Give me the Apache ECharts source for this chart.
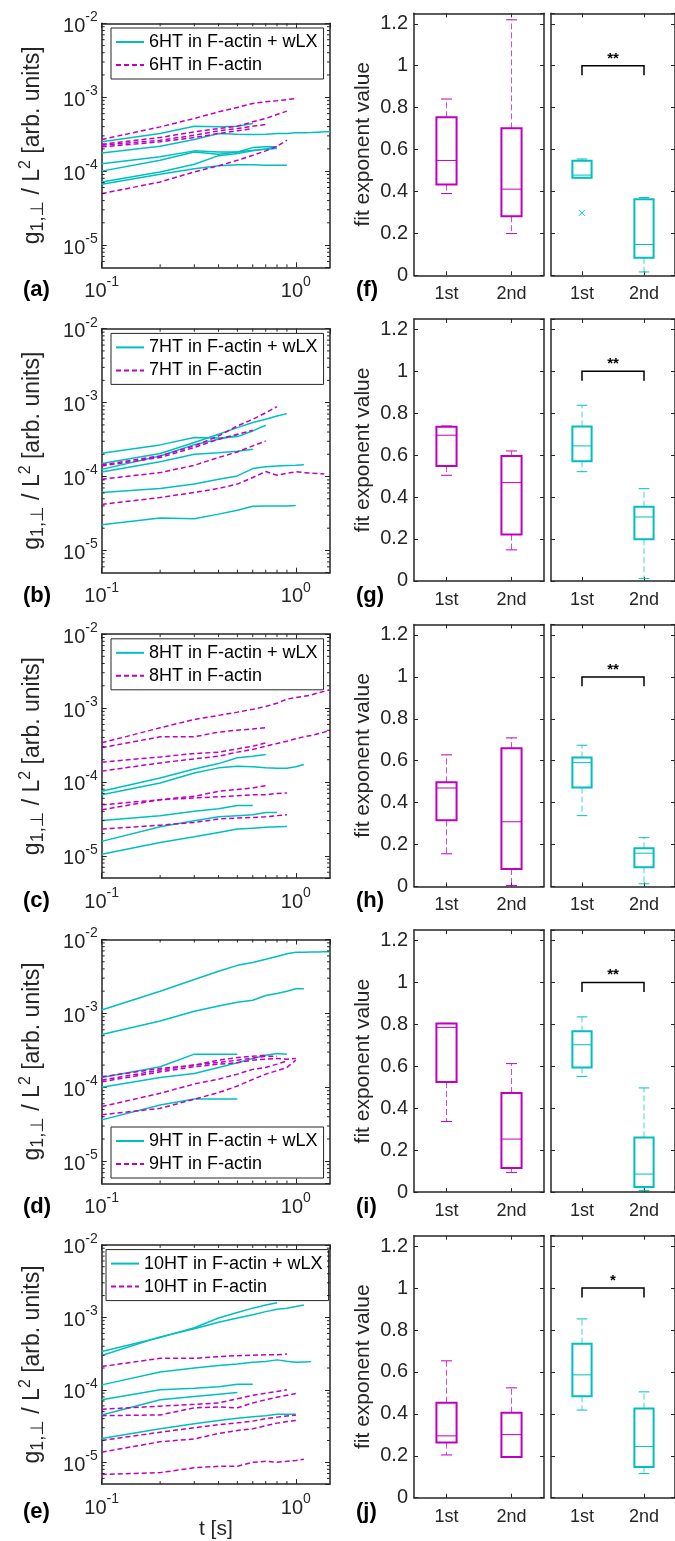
<!DOCTYPE html>
<html><head><meta charset="utf-8">
<script src="https://cdn.jsdelivr.net/npm/echarts@6/dist/echarts.min.js"></script>
<style>html,body{margin:0;padding:0;background:#fff}#c{width:675px;height:1541px}</style>
</head><body><div id="c"></div>
<script>
// ---------------- DATA ----------------
const T = [0.1,0.2,0.3,0.4,0.5,0.6,0.7,0.8,0.9,1.0,1.1,1.2,1.3,1.4,1.5];
const rowNames = ['6HT','7HT','8HT','9HT','10HT'];

const wLX_6HT = [
 [2.49e-4,3.23e-4,4.06e-4,3.97e-4,4.06e-4,4.41e-4],
 [1.76e-4,2.17e-4,2.68e-4,3.23e-4,3.16e-4,3.13e-4,3.16e-4,3.23e-4,3.23e-4,3.30e-4,3.30e-4,3.33e-4,3.37e-4,3.40e-4,3.40e-4],
 [1.26e-4,1.56e-4,1.88e-4,1.82e-4,1.82e-4,2.08e-4,2.13e-4,2.13e-4],
 [1.00e-4,1.40e-4,1.82e-4,1.69e-4,1.82e-4,1.92e-4,1.98e-4,2.02e-4],
 [7.14e-5,9.76e-5,1.24e-4,1.62e-4,1.73e-4,1.88e-4,2.00e-4,2.13e-4],
 [6.64e-5,9.07e-5,1.08e-4,1.18e-4,1.22e-4,1.22e-4,1.20e-4,1.20e-4,1.20e-4]
];
const act_6HT = [
 [2.68e-4,3.97e-4,5.16e-4,6.34e-4,7.27e-4,8.23e-4,8.70e-4,8.95e-4,9.30e-4,9.62e-4],
 [2.31e-4,2.85e-4,3.40e-4,3.77e-4,4.06e-4,4.65e-4,5.16e-4,5.85e-4,6.48e-4],
 [2.24e-4,2.62e-4,3.06e-4,3.51e-4,3.77e-4,4.06e-4,4.27e-4],
 [2.13e-4,2.49e-4,2.85e-4,3.23e-4,3.51e-4,3.77e-4],
 [4.96e-5,7.14e-5,9.76e-5,1.18e-4,1.40e-4,1.64e-4,1.88e-4,2.17e-4,2.62e-4]
];
const wLX_7HT = [
 [2.07e-4,2.68e-4,3.37e-4,3.33e-4,3.47e-4,4.14e-4,4.94e-4],
 [1.50e-4,2.05e-4,2.88e-4,3.73e-4,4.59e-4,5.37e-4,5.95e-4,6.60e-4,7.10e-4],
 [1.25e-4,1.90e-4,2.70e-4,3.20e-4,3.60e-4],
 [1.15e-4,1.58e-4,2.00e-4,2.10e-4,2.20e-4,2.34e-4],
 [6.1e-5,6.9e-5,7.9e-5,9.2e-5,1.02e-4,1.28e-4,1.36e-4,1.39e-4,1.41e-4,1.42e-4,1.44e-4],
 [2.22e-5,2.75e-5,2.68e-5,3.10e-5,3.50e-5,3.95e-5,4.00e-5,4.00e-5,4.00e-5,4.05e-5]
];
const act_7HT = [
 [1.44e-4,1.90e-4,2.60e-4,3.54e-4,4.84e-4,5.95e-4,7.30e-4,8.83e-4],
 [1.39e-4,1.81e-4,2.47e-4,3.20e-4,3.73e-4,4.23e-4],
 [9.2e-5,1.13e-4,1.42e-4,1.81e-4,2.15e-4,2.60e-4,3.03e-4],
 [4.2e-5,5.2e-5,6.1e-5,6.9e-5,7.9e-5,9.7e-5,1.17e-4,1.04e-4,1.11e-4,1.16e-4,1.13e-4,1.11e-4,1.10e-4,1.08e-4]
];
const wLX_8HT = [
 [7.5e-5,1.13e-4,1.50e-4,1.77e-4,2.12e-4,2.23e-4,2.35e-4],
 [6.7e-5,9.7e-5,1.32e-4,1.55e-4,1.63e-4,1.60e-4,1.55e-4,1.53e-4,1.53e-4,1.60e-4,1.72e-4],
 [3.0e-5,3.5e-5,4.0e-5,4.35e-5,4.8e-5,4.8e-5],
 [1.57e-5,2.48e-5,2.99e-5,3.38e-5,3.5e-5,3.6e-5,3.87e-5,3.87e-5],
 [1.05e-5,1.52e-5,1.81e-5,2.07e-5,2.3e-5,2.37e-5,2.43e-5,2.48e-5,2.5e-5]
];
const act_8HT = [
 [3.38e-4,5.4e-4,7.0e-4,7.95e-4,8.8e-4,9.6e-4,1.05e-3,1.16e-3,1.32e-3,1.38e-3,1.44e-3,1.5e-3,1.6e-3,1.68e-3,1.77e-3],
 [2.9e-4,4.08e-4,4.08e-4,4.72e-4,5.02e-4,5.2e-4,5.4e-4],
 [1.85e-4,2.18e-4,2.42e-4,2.53e-4,2.8e-4,3.05e-4,3.38e-4],
 [1.4e-4,1.81e-4,2.05e-4,2.23e-4,2.53e-4,2.75e-4,3.05e-4,3.31e-4,3.56e-4,3.84e-4,4.08e-4,4.25e-4,4.49e-4,4.72e-4,5.02e-4],
 [4.9e-5,5.75e-5,6.4e-5,7.47e-5,7.9e-5,8.3e-5,8.9e-5],
 [4.2e-5,5.75e-5,6.07e-5,6.3e-5,6.5e-5,6.7e-5,6.7e-5,7.0e-5,7.1e-5],
 [2.3e-5,2.6e-5,2.83e-5,3.15e-5,3.25e-5,3.3e-5,3.38e-5,3.5e-5,3.6e-5]
];
const wLX_9HT = [
 [1.11e-3,2.0e-3,2.87e-3,3.71e-3,4.47e-3,4.9e-3,5.4e-3,5.9e-3,6.4e-3,6.7e-3,6.7e-3,6.75e-3,6.8e-3,6.85e-3,6.85e-3],
 [5.2e-4,7.9e-4,1.07e-3,1.26e-3,1.42e-3,1.51e-3,1.75e-3,1.86e-3,2.0e-3,2.15e-3,2.15e-3],
 [1.36e-4,1.9e-4,2.81e-4,2.81e-4,2.81e-4],
 [1.0e-4,1.36e-4,1.54e-4,1.86e-4,2.15e-4,2.45e-4,2.72e-4,2.87e-4,2.81e-4],
 [3.63e-5,5.78e-5,6.97e-5,6.97e-5,6.97e-5]
];
const act_9HT = [
 [1.39e-4,1.8e-4,2.0e-4,2.17e-4,2.33e-4,2.5e-4,2.64e-4,2.64e-4],
 [1.25e-4,1.71e-4,2.0e-4,2.33e-4,2.53e-4,2.64e-4,2.72e-4],
 [1.19e-4,1.62e-4,1.9e-4,2.06e-4,2.15e-4,2.33e-4,2.41e-4,2.45e-4,2.4e-4,2.45e-4],
 [5.5e-5,8.3e-5,1.11e-4,1.29e-4,1.51e-4,1.75e-4,1.86e-4,2.06e-4,2.28e-4],
 [4.25e-5,5.2e-5,6.9e-5,8.5e-5,1.04e-4,1.28e-4,1.51e-4,1.68e-4,1.86e-4,2.33e-4]
];
const wLX_10HT = [
 [3.38e-4,5.27e-4,7.19e-4,9.8e-4,1.17e-3,1.34e-3,1.48e-3,1.59e-3],
 [2.98e-4,5.38e-4,6.97e-4,8.57e-4,9.8e-4,1.09e-3,1.2e-3,1.29e-3,1.34e-3,1.41e-3,1.48e-3],
 [1.17e-4,1.76e-4,2.0e-4,2.17e-4,2.28e-4,2.4e-4,2.46e-4,2.59e-4,2.48e-4,2.4e-4,2.43e-4,2.45e-4],
 [7.3e-5,1.0e-4,1.05e-4,1.1e-4,1.19e-4,1.19e-4],
 [4.5e-5,7.3e-5,8.1e-5,8.7e-5,9.2e-5],
 [2.13e-5,2.9e-5,3.4e-5,3.77e-5,4.05e-5,4.25e-5,4.4e-5,4.6e-5,4.6e-5,4.6e-5]
];
const act_10HT = [
 [2.1e-4,2.72e-4,2.72e-4,2.87e-4,2.96e-4,3.0e-4,3.05e-4,3.05e-4,3.11e-4],
 [5.4e-5,5.95e-5,6.3e-5,6.6e-5,7.55e-5,8.4e-5,9.0e-5,9.5e-5,1.0e-4],
 [4.4e-5,4.5e-5,5.65e-5,5.8e-5,5.65e-5,6.6e-5,7.3e-5,7.9e-5,8.4e-5,8.9e-5],
 [2.0e-5,2.6e-5,3.0e-5,3.3e-5,3.5e-5,3.7e-5,4.0e-5,4.2e-5,4.35e-5,4.45e-5],
 [1.38e-5,1.92e-5,2.1e-5,2.5e-5,2.75e-5,2.9e-5,3.2e-5,3.47e-5,3.65e-5,3.77e-5],
 [6.8e-6,7.2e-6,8.4e-6,8.8e-6,8.8e-6,1.0e-5,1.03e-5,1.0e-5,1.03e-5,1.06e-5,1.1e-5]
];
const wLX_rows = [wLX_6HT, wLX_7HT, wLX_8HT, wLX_9HT, wLX_10HT];
const act_rows = [act_6HT, act_7HT, act_8HT, act_9HT, act_10HT];

// box statistics: [min, q1, median, q3, max] for "1st" and "2nd"
const boxCats = ['1st','2nd'];
const box_act_f = [[0.390,0.433,0.548,0.754,0.841],[0.199,0.282,0.411,0.701,1.219]];
const box_wlx_f = [[0.465,0.465,0.478,0.547,0.555],[0.016,0.084,0.147,0.363,0.371]];
const box_act_g = [[0.504,0.548,0.695,0.736,0.739],[0.148,0.221,0.469,0.596,0.620]];
const box_wlx_g = [[0.521,0.571,0.644,0.737,0.838],[0.011,0.199,0.305,0.354,0.440]];
const box_act_h = [[0.156,0.316,0.470,0.497,0.628],[0.005,0.084,0.309,0.660,0.709]];
const box_wlx_h = [[0.338,0.472,0.591,0.615,0.674],[0.013,0.092,0.159,0.182,0.233]];
const box_act_i = [[0.337,0.525,0.786,0.804,0.805],[0.094,0.115,0.253,0.473,0.613]];
const box_wlx_i = [[0.552,0.595,0.703,0.767,0.836],[0.008,0.024,0.086,0.261,0.497]];
const box_act_j = [[0.204,0.263,0.295,0.453,0.653],[0.194,0.194,0.301,0.405,0.524]];
const box_wlx_j = [[0.418,0.484,0.586,0.735,0.853],[0.115,0.147,0.244,0.425,0.505]];
const boxAct = [box_act_f, box_act_g, box_act_h, box_act_i, box_act_j];
const boxWlx = [box_wlx_f, box_wlx_g, box_wlx_h, box_wlx_i, box_wlx_j];
const outliersWlx = [[[0, 0.298]], [], [], [], []];
const signif = ['**','**','**','**','*'];
const leftLetters = ['(a)','(b)','(c)','(d)','(e)'];
const rightLetters = ['(f)','(g)','(h)','(i)','(j)'];

// ---------------- STYLE / LAYOUT ----------------
const AX = '#262626', CY = '#00BFBF', MG = '#BF00BF';
const FONT = 'Liberation Sans, Arial, Helvetica, sans-serif';
const ROWL = 305.4, ROWR = 305.6;
const TICK_RICH = {
  b: {fontSize: 20, fontFamily: FONT, color: AX, lineHeight: 26, verticalAlign: 'bottom'},
  s: {fontSize: 14, fontFamily: FONT, color: AX, lineHeight: 12, verticalAlign: 'top'}
};
function logFmt(v) {
  const e = Math.log10(v), r = Math.round(e);
  if (Math.abs(e - r) > 1e-6) return '';
  return '{b|10}{s|' + r + '}';
}
const yMinor = [];
[1e-6, 1e-5, 1e-4, 1e-3].forEach(d => { for (let m = 2; m <= 9; m++) { const v = m * d; if (v > 5.01e-6 && v < 1e-2) yMinor.push(v); } });
const xMinor = [0.2,0.3,0.4,0.5,0.6,0.7,0.8,0.9];

const grids = [], xAxes = [], yAxes = [], series = [], legends = [], graphics = [];
const axLine = {show: true, onZero: false, lineStyle: {color: AX, width: 1.5}};

function addGrid(g) { grids.push(g); return grids.length - 1; }

function minorYRender(params, api) {
  const cs = params.coordSys;
  const p = api.coord([api.value(0), api.value(1)]);
  return {type: 'group', children: [
    {type: 'line', shape: {x1: cs.x, y1: p[1], x2: cs.x + 3, y2: p[1]}, style: {stroke: AX, lineWidth: 1}},
    {type: 'line', shape: {x1: cs.x + cs.width - 3, y1: p[1], x2: cs.x + cs.width, y2: p[1]}, style: {stroke: AX, lineWidth: 1}}
  ]};
}
function minorXRender(params, api) {
  const cs = params.coordSys;
  const p = api.coord([api.value(0), api.value(1)]);
  return {type: 'group', children: [
    {type: 'line', shape: {x1: p[0], y1: cs.y + cs.height, x2: p[0], y2: cs.y + cs.height - 3}, style: {stroke: AX, lineWidth: 1}},
    {type: 'line', shape: {x1: p[0], y1: cs.y, x2: p[0], y2: cs.y + 3}, style: {stroke: AX, lineWidth: 1}}
  ]};
}
function makeBoxRender(color) {
  return function (params, api) {
    const cat = api.value(0);
    const pts = [1,2,3,4,5].map(k => api.coord([cat, api.value(k)]));
    const [pMin, pQ1, pMed, pQ3, pMax] = pts;
    const cx = pMed[0];
    const band = api.size([1, 0])[0];
    const w = band * 0.31, cw = w * 0.55;
    const dashed = {stroke: color, lineWidth: 1, lineDash: [6, 3], opacity: 0.7};
    const solid = {stroke: color, lineWidth: 1};
    return {type: 'group', children: [
      {type: 'line', shape: {x1: cx, y1: pQ3[1], x2: cx, y2: pMax[1]}, style: dashed},
      {type: 'line', shape: {x1: cx, y1: pQ1[1], x2: cx, y2: pMin[1]}, style: dashed},
      {type: 'line', shape: {x1: cx - cw / 2, y1: pMax[1], x2: cx + cw / 2, y2: pMax[1]}, style: solid},
      {type: 'line', shape: {x1: cx - cw / 2, y1: pMin[1], x2: cx + cw / 2, y2: pMin[1]}, style: solid},
      {type: 'rect', shape: {x: cx - w / 2, y: pQ3[1], width: w, height: pQ1[1] - pQ3[1]}, style: {fill: 'none', stroke: color, lineWidth: 2}},
      {type: 'line', shape: {x1: cx - w / 2, y1: pMed[1], x2: cx + w / 2, y2: pMed[1]}, style: solid}
    ]};
  };
}
function makeOutlierRender(color) {
  return function (params, api) {
    const p = api.coord([api.value(0), api.value(1)]);
    const s = 3;
    return {type: 'group', children: [
      {type: 'line', shape: {x1: p[0] - s, y1: p[1] - s, x2: p[0] + s, y2: p[1] + s}, style: {stroke: color, lineWidth: 1}},
      {type: 'line', shape: {x1: p[0] - s, y1: p[1] + s, x2: p[0] + s, y2: p[1] - s}, style: {stroke: color, lineWidth: 1}}
    ]};
  };
}
function makeBracketRender(stars) {
  return function (params, api) {
    const top = api.value(1), leg = api.value(2), starY = api.value(3);
    const a = api.coord([0, top]), b = api.coord([1, top]), l = api.coord([0, leg]), s = api.coord([0, starY]);
    return {type: 'group', children: [
      {type: 'polyline', shape: {points: [[a[0], l[1]], [a[0], a[1]], [b[0], a[1]], [b[0], l[1]]]}, style: {stroke: '#000', lineWidth: 1.5, fill: 'none'}},
      {type: 'text', x: (a[0] + b[0]) / 2, y: s[1], style: {text: stars, font: 'bold 15px ' + FONT, fill: '#000', align: 'center', verticalAlign: 'middle'}}
    ]};
  };
}

for (let i = 0; i < 5; i++) {
  // ---------- left log-log panel ----------
  const gL = addGrid({left: 101.7, top: 23.3 + i * ROWL, width: 228.3, height: 244});
  const xi = xAxes.length, yi = yAxes.length;
  xAxes.push({type: 'log', logBase: 10, gridIndex: gL, min: 0.1, max: 1.5, position: 'bottom',
    axisLine: axLine, axisTick: {show: true, inside: true, length: 5, lineStyle: {color: AX, width: 1}},
    splitLine: {show: false},
    axisLabel: {show: true, margin: 8, formatter: logFmt, rich: TICK_RICH, showMaxLabel: false},
    name: i === 4 ? 't [s]' : '', nameLocation: 'middle', nameGap: 32,
    nameTextStyle: {fontSize: 21, fontFamily: FONT, color: AX}});
  xAxes.push({type: 'log', logBase: 10, gridIndex: gL, min: 0.1, max: 1.5, position: 'top',
    axisLine: axLine, axisTick: {show: true, inside: true, length: 5, lineStyle: {color: AX, width: 1}},
    splitLine: {show: false}, axisLabel: {show: false}});
  yAxes.push({type: 'log', logBase: 10, gridIndex: gL, min: 5e-6, max: 1e-2, position: 'left',
    axisLine: axLine, axisTick: {show: true, inside: true, length: 5, lineStyle: {color: AX, width: 1}},
    splitLine: {show: false},
    axisLabel: {show: true, margin: 4, formatter: logFmt, rich: TICK_RICH, showMinLabel: false},
    name: '{g|g}{sub|1,\u22A5}{n| / L}{sup|2}{n| [arb. units]}', nameLocation: 'middle', nameRotate: 90, nameGap: 55,
    nameTextStyle: {fontFamily: FONT, color: AX, rich: {
      g: {fontSize: 23, fontFamily: FONT, color: AX, lineHeight: 29},
      n: {fontSize: 23, fontFamily: FONT, color: AX, lineHeight: 29},
      sub: {fontSize: 18, fontFamily: FONT + ', DejaVu Sans', color: AX, lineHeight: 17, verticalAlign: 'bottom'},
      sup: {fontSize: 16, fontFamily: FONT, color: AX, lineHeight: 14, verticalAlign: 'top'}
    }}});
  yAxes.push({type: 'log', logBase: 10, gridIndex: gL, min: 5e-6, max: 1e-2, position: 'right',
    axisLine: axLine, axisTick: {show: true, inside: true, length: 5, lineStyle: {color: AX, width: 1}},
    splitLine: {show: false}, axisLabel: {show: false}});

  const nameW = rowNames[i] + ' in F-actin + wLX';
  const nameA = rowNames[i] + ' in F-actin';
  wLX_rows[i].forEach(vals => series.push({type: 'line', name: nameW, xAxisIndex: xi, yAxisIndex: yi,
    data: vals.map((v, k) => [T[k], v]), symbol: 'none', silent: true, z: 2,
    lineStyle: {color: CY, width: 1.5}, itemStyle: {color: CY}}));
  act_rows[i].forEach(vals => series.push({type: 'line', name: nameA, xAxisIndex: xi, yAxisIndex: yi,
    data: vals.map((v, k) => [T[k], v]), symbol: 'none', silent: true, z: 3,
    lineStyle: {color: MG, width: 1.5, type: [5, 3]}, itemStyle: {color: MG}}));
  series.push({type: 'custom', xAxisIndex: xi, yAxisIndex: yi, silent: true, renderItem: minorYRender,
    data: yMinor.map(v => [0.2, v]), z: 5});
  series.push({type: 'custom', xAxisIndex: xi, yAxisIndex: yi, silent: true, renderItem: minorXRender,
    data: xMinor.map(v => [v, 1e-4]), z: 5});

  const legTop = i === 3 ? 1127 : (28 + i * ROWL);
  legends.push({orient: 'vertical', left: i === 4 ? 106 : 111, top: legTop, data: [nameW, nameA],
    itemWidth: 28, itemHeight: 14, itemGap: 5, padding: [5, 6, 5, 4], selectedMode: false,
    itemStyle: {opacity: 0, borderWidth: 0},
    borderColor: AX, borderWidth: 1, backgroundColor: '#fff',
    textStyle: {fontSize: 18, fontFamily: FONT, color: '#000'}});

  // ---------- box panels ----------
  [0, 1].forEach(side => {
    const g = addGrid({left: side === 0 ? 414 : 551, top: 13.3 + i * ROWR, width: side === 0 ? 130 : 128, height: 262});
    const bx = xAxes.length, by = yAxes.length;
    xAxes.push({type: 'category', gridIndex: g, data: boxCats, position: 'bottom',
      axisLine: axLine, axisTick: {show: true, inside: true, alignWithLabel: true, length: 4, lineStyle: {color: AX}},
      axisLabel: {fontSize: 18, fontFamily: FONT, color: AX, margin: 10}, splitLine: {show: false}});
    xAxes.push({type: 'category', gridIndex: g, data: boxCats, position: 'top',
      axisLine: axLine, axisTick: {show: true, inside: true, alignWithLabel: true, length: 4, lineStyle: {color: AX}},
      axisLabel: {show: false}, splitLine: {show: false}});
    yAxes.push({type: 'value', gridIndex: g, min: 0, max: 1.25, interval: 0.2, position: 'left',
      axisLine: axLine, axisTick: {show: true, inside: true, length: 4, lineStyle: {color: AX}},
      splitLine: {show: false},
      axisLabel: side === 0 ? {show: true, fontSize: 20, fontFamily: FONT, color: AX, margin: 6, showMaxLabel: false,
        formatter: v => String(Math.round(v * 10) / 10)} : {show: false},
      name: side === 0 ? 'fit exponent value' : '', nameLocation: 'middle', nameRotate: 90, nameGap: 40,
      nameTextStyle: {fontSize: 21, fontFamily: FONT, color: AX}});
    yAxes.push({type: 'value', gridIndex: g, min: 0, max: 1.25, interval: 0.2, position: 'right',
      axisLine: axLine, axisTick: {show: true, inside: true, length: 4, lineStyle: {color: AX}},
      splitLine: {show: false}, axisLabel: {show: false}});
    const color = side === 0 ? MG : CY;
    const stats = side === 0 ? boxAct[i] : boxWlx[i];
    series.push({type: 'custom', xAxisIndex: bx, yAxisIndex: by, silent: true, renderItem: makeBoxRender(color),
      encode: {x: 0, y: [1, 2, 3, 4, 5]}, data: stats.map((s, k) => [k].concat(s)), z: 3});
    if (side === 1) {
      if (outliersWlx[i].length) series.push({type: 'custom', xAxisIndex: bx, yAxisIndex: by, silent: true,
        renderItem: makeOutlierRender(CY), encode: {x: 0, y: 1}, data: outliersWlx[i], z: 3});
      series.push({type: 'custom', xAxisIndex: bx, yAxisIndex: by, silent: true,
        renderItem: makeBracketRender(signif[i]), encode: {x: 0, y: [1, 2, 3]}, data: [[0, 1.0, 0.955, 1.035]], z: 4});
    }
  });

  graphics.push({type: 'text', left: 23, top: 279 + i * 305.5, style: {text: leftLetters[i], font: 'bold 22px ' + FONT, fill: '#000'}});
  graphics.push({type: 'text', left: 356, top: 279 + i * 305.5, style: {text: rightLetters[i], font: 'bold 22px ' + FONT, fill: '#000'}});
}

const chart = echarts.init(document.getElementById('c'), null, {renderer: 'canvas'});
chart.setOption({
  animation: false,
  backgroundColor: '#fff',
  grid: grids, xAxis: xAxes, yAxis: yAxes, series: series, legend: legends, graphic: graphics
});
</script></body></html>
